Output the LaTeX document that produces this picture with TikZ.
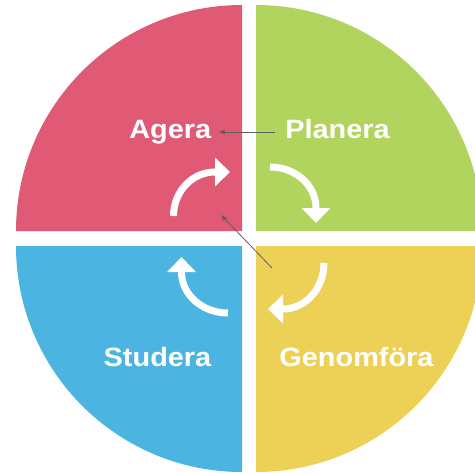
\documentclass[tikz,border=0pt]{standalone}
\usepackage{fontspec}
\newfontfamily\labfont[FakeStretch=1.09]{Liberation Sans}
\usetikzlibrary{arrows.meta}
\definecolor{qred}{HTML}{E05A76}
\definecolor{qgreen}{HTML}{B1D45F}
\definecolor{qyellow}{HTML}{EDD157}
\definecolor{qblue}{HTML}{4BB4E1}
\definecolor{pointer}{HTML}{5E5E5E}
\begin{document}
\begin{tikzpicture}[x=1pt,y=-1pt,
  lab/.style={text=white,font=\labfont\bfseries\fontsize{26.5}{30}\selectfont,anchor=base,inner sep=0pt},
  cyclearrow/.style={white,line width=7pt,-{Triangle[width=28pt,length=15pt]}},
  pointerarrow/.style={pointer,line width=0.8pt,-{Latex[length=6pt,width=5pt]}}]
\useasboundingbox (0,0) rectangle (475,474);
\begin{scope}
\clip (0,0) rectangle (475,474);
% quadrants
\fill[qred] (242,231) -- (16,231) arc[start angle=180,end angle=270,radius=226] -- cycle;
\fill[qgreen] (256,231) -- (256,5) arc[start angle=270,end angle=360,radius=226] -- cycle;
\fill[qyellow] (256,246) -- (482,246) arc[start angle=0,end angle=90,radius=226] -- cycle;
\fill[qblue] (242,246) -- (242,472) arc[start angle=90,end angle=180,radius=226] -- cycle;
\end{scope}
% labels
\node[lab] (agera) at (170.3,138) {Agera};
\node[lab] (planera) at (337.5,138) {Planera};
\node[lab] (studera) at (157.5,366.5) {Studera};
\node[lab] (genomfora) at (356.5,366) {Genomföra};
% cycle arrows
\draw[cyclearrow] (173.5,216) arc[start angle=180,end angle=270,x radius=41.5,y radius=44] -- (230,172);
\draw[cyclearrow] (270,167) arc[start angle=270,end angle=360,x radius=46,y radius=41] -- (316,223);
\draw[cyclearrow] (324,263) arc[start angle=0,end angle=90,x radius=41,y radius=46] -- (268,309);
\draw[cyclearrow] (228,313) arc[start angle=90,end angle=180,x radius=46.5,y radius=41] -- (181.5,257);
% pointer arrows
\coordinate (pstart) at (275,132);
\coordinate (pend) at (218.5,132);
\coordinate (gstart) at (272,268);
\coordinate (gend) at (221,215);
\draw[pointerarrow] (pstart) -- (pend);
\draw[pointerarrow] (gstart) -- (gend);
\end{tikzpicture}
\end{document}
